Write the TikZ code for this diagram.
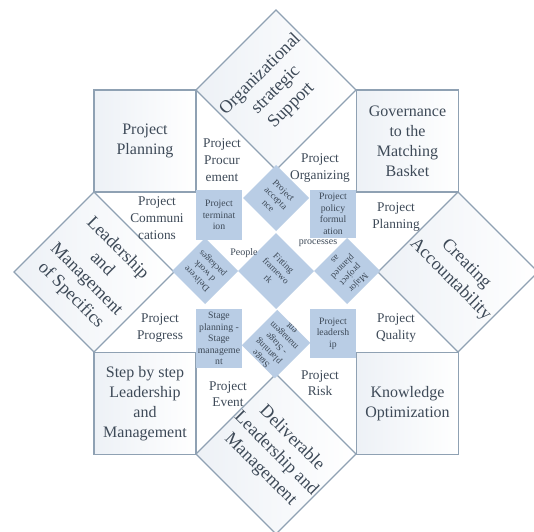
\documentclass[tikz,border=0pt]{standalone}
\usepackage{fontspec}
\setmainfont{Liberation Serif}
\usepackage{xcolor}
\usepackage{tikz}

\definecolor{inkgrey}{HTML}{3E4A58}
\definecolor{edgegrey}{HTML}{8FA1B3}
\definecolor{paleblue}{HTML}{EDF1F6}
\definecolor{cellblue}{HTML}{B9CDE5}

\begin{document}
\begin{tikzpicture}[x=0.75pt,y=-0.75pt,
        every node/.style={text=inkgrey,align=center,inner sep=0pt},
        cornerbox/.style={draw=edgegrey,line width=0.9pt,left color=paleblue,right color=white,
            minimum width=76.5pt,minimum height=76.5pt,font=\fontsize{12}{15}\selectfont},
        bigdia/.style={draw=edgegrey,line width=0.9pt,left color=paleblue,right color=white,
            minimum size=84.8pt,font=\fontsize{13.5}{16.5}\selectfont},
        cellbox/.style={fill=cellblue,minimum width=34.5pt,font=\fontsize{7.3}{8.6}\selectfont},
        celldia/.style={fill=cellblue,minimum size=35pt,font=\fontsize{7}{8.2}\selectfont},
        midlabel/.style={font=\fontsize{10}{12.5}\selectfont},
        tinylabel/.style={font=\fontsize{7.5}{9}\selectfont}]
        \useasboundingbox[fill=white] (0,0) rectangle (534,531);

        \node[cornerbox] (planning) at (145,141) {Project\\Planning};
        \node[cornerbox] (governance) at (407.5,141) {Governance\\to the\\Matching\\Basket};
        \node[cornerbox] (stepwise) at (145,403.5) {Step by step\\Leadership\\and\\Management};
        \node[cornerbox] (knowledge) at (407.5,403.5) {Knowledge\\Optimization};

        \node[bigdia,rotate=45] (strategic) at (276,90) {Organizational\\strategic\\Support};
        \node[bigdia,rotate=-45] (specifics) at (94,272) {Leadership\\and\\Management\\of Specifics};
        \node[bigdia,rotate=-45] (accountability) at (458,272) {Creating\\Accountability};
        \node[bigdia,rotate=-45] (deliverable) at (276,454) {Deliverable\\Leadership and\\Management};

        \node[cellbox,minimum height=37.5pt] (termination) at (219,215) {Project\\terminat\\ion};
        \node[cellbox,minimum height=36pt] (policy) at (333,214) {Project\\policy\\formul\\ation};
        \node[cellbox,minimum height=44pt] (stagecell) at (219,338.5) {Stage\\planning -\\Stage\\manageme\\nt};
        \node[cellbox,minimum height=37pt] (leadcell) at (333,333.5) {Project\\leadersh\\ip};

        \node[celldia,rotate=-45] (acceptance) at (276,198) {Project\\accepta\\nce};
        \node[celldia,rotate=-45,minimum size=40.3pt] (fitting) at (276,271) {Fitting\\framewo\\rk};
        \node[celldia,rotate=135] (delivered) at (205,271) {Delivere\\d work\\packages};
        \node[celldia,rotate=-135] (major) at (347,271) {Major\\project\\planned\\as};
        \node[celldia,rotate=135] (stagedia) at (276,344) {Stage\\planning\\- Stage\\managem\\ent};

        \node[midlabel] (procurement) at (222,160) {Project\\Procur\\ement};
        \node[midlabel] (organizing) at (320,168) {Project\\Organizing};
        \node[midlabel] (communications) at (157,218) {Project\\Communi\\cations};
        \node[midlabel] (planningR) at (396,217) {Project\\Planning};
        \node[midlabel] (progress) at (160,328) {Project\\Progress};
        \node[midlabel] (quality) at (396,328) {Project\\Quality};
        \node[midlabel] (event) at (228,394) {Project\\Event};
        \node[midlabel] (risk) at (320,383) {Project\\Risk};

        \node[tinylabel] (people) at (244,253) {People};
        \node[tinylabel] (processes) at (318,243) {processes};
    \end{tikzpicture}
\end{document}
